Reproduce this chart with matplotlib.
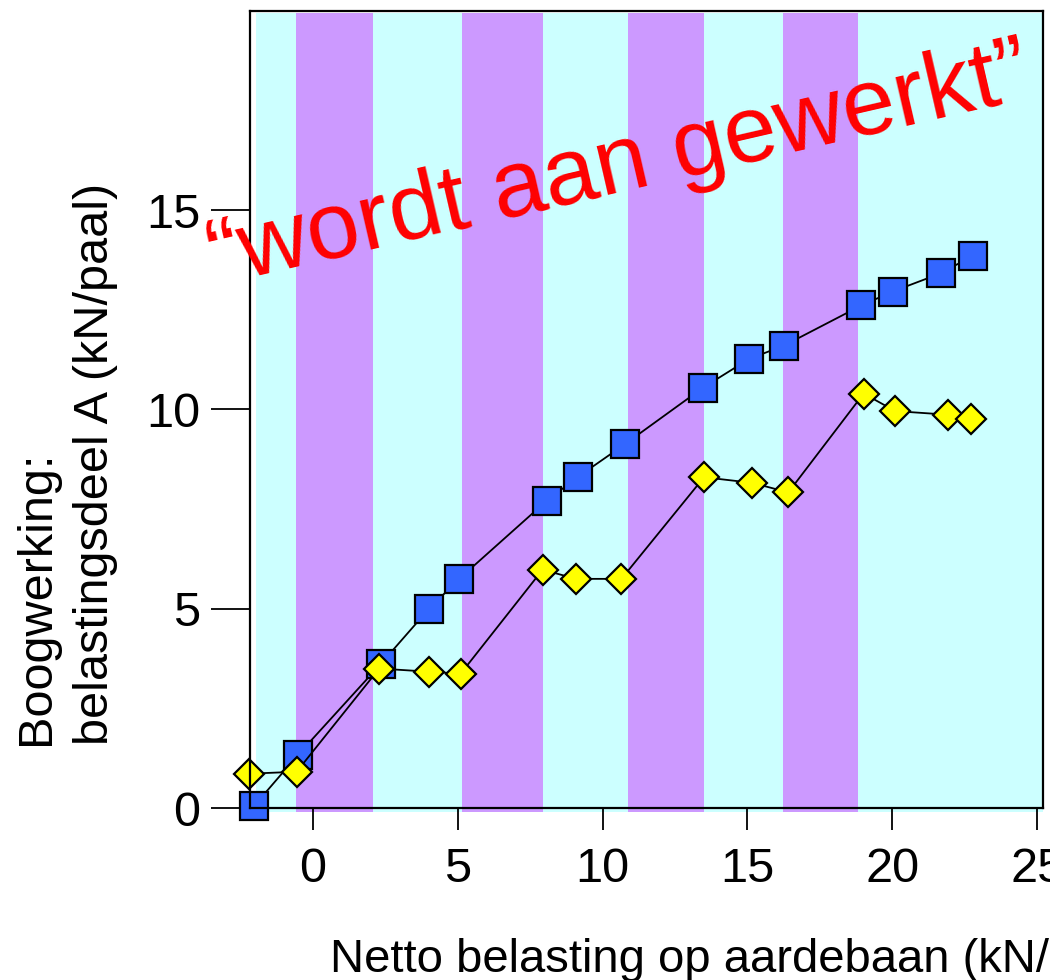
import matplotlib
matplotlib.use("Agg")
import matplotlib.pyplot as plt

plt.rcParams["font.family"] = ["Liberation Sans", "DejaVu Sans"]

# Netto belasting (kN/m2) and boogwerking (kN/paal) per meting
blauw_x = [-2.02, -0.53, 2.35, 4.01, 5.05, 8.07, 9.15, 10.77, 13.47, 15.06,
           16.25, 18.93, 20.01, 21.68, 22.78]
blauw_y = [0.06, 1.32, 3.62, 5.00, 5.75, 7.71, 8.31, 9.13, 10.55, 11.27,
           11.60, 12.61, 12.96, 13.42, 13.86]

geel_x = [-2.22, -0.56, 2.29, 4.01, 5.10, 7.93, 9.08, 10.65, 13.50, 15.16,
          16.41, 19.01, 20.10, 21.91, 22.71]
geel_y = [0.86, 0.91, 3.50, 3.42, 3.37, 5.98, 5.75, 5.75, 8.30, 8.16,
          7.92, 10.40, 9.96, 9.87, 9.77]

# fase-grenzen op de x-as (afwisselend lichtblauw / paars)
fase_grenzen = [-1.95, -0.57, 2.06, 5.14, 7.94, 10.88, 13.51, 16.21, 18.81, 25.2]
fase_kleuren = ["#CCFFFF", "#CC99FF"]

x_ticks = [0, 5, 10, 15, 20, 25]
y_ticks = [0, 5, 10, 15]

fig = plt.figure(figsize=(10.5, 9.8), dpi=100)
ax = fig.add_axes([250 / 1050, 1 - 808 / 980, (1043 - 250) / 1050, (808 - 11) / 980])

for i in range(len(fase_grenzen) - 1):
    ax.axvspan(fase_grenzen[i], fase_grenzen[i + 1], ymin=-0.005, ymax=0.9975,
               color=fase_kleuren[i % 2], lw=0, zorder=0, clip_on=False)

ax.plot(blauw_x, blauw_y, color="black", lw=1.3, marker="s", ms=20,
        mfc="#3366FF", mec="black", mew=1.6, zorder=3, clip_on=False)
ax.plot(geel_x, geel_y, color="black", lw=1.3, marker="D", ms=15.5,
        mfc="#FFFF00", mec="black", mew=1.6, zorder=4, clip_on=False)

ax.set_xlim(-2.17, 25.2)
ax.set_ylim(0, 20.0)
ax.set_xticks(x_ticks)
ax.set_yticks(y_ticks)
ax.tick_params(axis="y", direction="out", length=28, width=1.3, pad=8, labelsize=35)
ax.tick_params(axis="x", direction="out", length=16, width=1.3, pad=12, labelsize=35)
for s in ax.spines.values():
    s.set_linewidth(1.6)
    s.set_zorder(5)

fig.text(330 / 1050, 1 - 972 / 980, "Netto belasting op aardebaan (kN/m²)",
         ha="left", va="baseline", fontsize=34)
fig.text(37 / 1050, 1 - 745 / 980, "Boogwerking:", rotation=90,
         ha="center", va="bottom", fontsize=35)
fig.text(96 / 1050, 1 - 745 / 980, "belastingsdeel A (kN/paal)", rotation=90,
         ha="center", va="bottom", fontsize=35)

fig.text(619 / 1050, 1 - 167 / 980, "\u201cwordt aan gewerkt\u201d", rotation=13,
         rotation_mode="anchor", ha="center", va="center", fontsize=68.5,
         color="#FF0000", zorder=10)

fig.savefig("out.png", dpi=100)
